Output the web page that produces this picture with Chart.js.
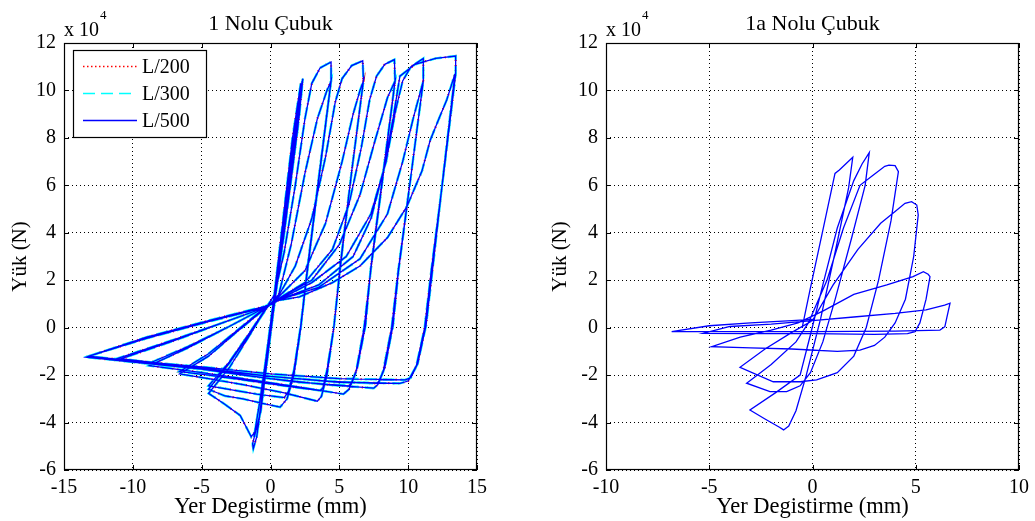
<!DOCTYPE html>
<html>
<head>
<meta charset="utf-8">
<title>Yük - Yer Degistirme</title>
<script src="https://cdn.jsdelivr.net/npm/chart.js@4.4.0/dist/chart.umd.min.js"></script>
<style>
    html, body { margin: 0; padding: 0; background: #fff; }
    #wrap { position: relative; width: 1035px; height: 521px; }
    .panel { position: absolute; top: 0; height: 521px; }
    #left { left: 0; width: 517px; }
    #right { left: 517px; width: 518px; }
</style>
</head>
<body>
<div id="wrap">
    <div class="panel" id="left"><canvas id="chart1"></canvas></div>
    <div class="panel" id="right"><canvas id="chart2"></canvas></div>
</div>
<script>
const FONT = "'Liberation Serif', 'DejaVu Serif', serif";

// tick labels
const xTicks1 = [-15, -10, -5, 0, 5, 10, 15];
const xTicks2 = [-10, -5, 0, 5, 10];
const yTicks = [-6, -4, -2, 0, 2, 4, 6, 8, 10, 12];

const titles = ['1 Nolu Çubuk', '1a Nolu Çubuk'];
const seriesNames = ['L/200', 'L/300', 'L/500'];

// [yer degistirme (mm), yük (x 10^4 N)]
// the three curves of rod 1 lie on top of each other at this scale
const rod1Points = [
    [0, 0], [0.8, 4.0], [1.6, 8.0], [2.2, 10.3], [2.0, 8.5], [1.0, 4.0], [0.0, 0.0], [-0.8, -3.2], [-1.2, -4.6],
    [-0.6, -2.5], [0.3, 1.5], [1.2, 5.5], [2.0, 9.2], [2.35, 10.5], [2.1, 9.0], [1.1, 4.5], [0.1, 0.2], [-0.7, -3.5], [-1.3, -4.9], [-1.25, -5.1], [-1.0, -4.6],
    [-0.2, -1.0], [0.7, 3.2], [1.6, 7.6], [2.3, 10.4], [1.9, 8.4], [0.9, 3.8], [-0.2, -1.2], [-0.9, -4.2], [-1.4, -4.6],
    [-2.2, -3.7], [-3.4, -3.2], [-4.5, -2.77],
    [-3.0, -1.7], [-1.6, -0.4], [-0.4, 0.75], [0.3, 1.4],
    [1.0, 3.2], [1.8, 6.0], [2.5, 8.8], [3.0, 10.3], [3.6, 10.95], [4.4, 11.2], [4.4, 10.4],
    [3.5, 6.2], [2.7, 2.5], [2.2, 0.0], [1.7, -2.0], [1.2, -3.0], [0.7, -3.35],
    [-0.5, -3.2], [-2.0, -3.0], [-3.3, -2.88], [-4.5, -2.6],
    [-3.0, -1.5], [-1.5, -0.25], [-0.3, 0.8], [0.6, 1.4],
    [1.5, 3.5], [2.5, 6.5], [3.4, 8.8], [4.1, 10.0], [4.4, 10.4],
    [3.5, 6.3], [2.7, 2.6], [2.2, 0.1], [1.7, -1.8], [1.3, -2.7], [1.0, -2.95],
    [-1.0, -2.8], [-2.5, -2.65], [-4.5, -2.45],
    [-3.0, -1.45], [-1.5, -0.2], [-0.3, 0.85], [0.6, 1.35],
    [1.8, 2.6], [3.0, 4.6], [4.0, 7.2], [4.7, 9.5], [5.2, 10.5], [5.9, 11.05], [6.7, 11.25], [6.75, 10.4],
    [5.9, 6.6], [5.1, 2.8], [4.6, 0.0], [4.1, -2.0], [3.7, -2.9], [3.4, -3.1],
    [1.0, -2.75], [-2.0, -2.4], [-4.5, -2.15], [-6.6, -1.95],
    [-4.5, -1.2], [-2.5, -0.2], [-0.4, 0.8], [0.6, 1.3],
    [2.5, 2.4], [4.0, 4.4], [5.2, 7.0], [6.0, 9.0], [6.5, 10.0], [6.75, 10.4],
    [5.9, 6.6], [5.1, 2.7], [4.6, 0.0], [4.1, -1.8], [3.8, -2.55], [3.6, -2.65],
    [1.0, -2.45], [-2.0, -2.2], [-4.5, -2.0], [-6.6, -1.85],
    [-4.5, -1.1], [-2.5, -0.15], [-0.4, 0.85], [0.5, 1.2],
    [2.5, 1.9], [4.5, 3.3], [5.7, 5.2], [6.6, 7.6], [7.2, 9.6], [7.7, 10.6], [8.3, 11.1], [9.0, 11.3], [9.05, 10.4],
    [8.2, 6.5], [7.3, 2.5], [6.8, 0.0], [6.2, -1.9], [5.7, -2.6], [5.3, -2.8],
    [2.0, -2.5], [-2.0, -2.15], [-5.5, -1.85], [-8.8, -1.6],
    [-6.0, -0.85], [-3.0, 0.05], [-0.4, 0.85], [0.5, 1.2],
    [3.0, 2.0], [5.0, 3.5], [6.5, 5.6], [7.6, 7.9], [8.5, 9.7], [9.05, 10.4],
    [8.2, 6.6], [7.3, 2.6], [6.9, 0.1], [6.3, -1.7], [5.9, -2.3], [5.7, -2.45],
    [2.0, -2.3], [-2.0, -2.0], [-5.5, -1.7], [-8.8, -1.5],
    [-6.0, -0.8], [-3.0, 0.05], [-0.4, 0.85], [0.5, 1.15],
    [3.0, 1.9], [5.5, 3.0], [7.3, 4.8], [8.4, 7.0], [9.1, 9.2], [9.6, 10.4], [10.2, 11.0], [11.1, 11.35], [11.1, 10.4],
    [10.2, 6.4], [9.3, 2.5], [8.8, 0.0], [8.2, -1.8], [7.8, -2.4], [7.5, -2.55],
    [4.0, -2.4], [0.0, -2.15], [-5.0, -1.75], [-11.1, -1.36],
    [-7.0, -0.55], [-3.5, 0.2], [-0.4, 0.85], [0.5, 1.15],
    [3.5, 1.7], [6.5, 2.9], [8.5, 4.8], [9.6, 7.0], [10.4, 8.9], [11.1, 10.4],
    [10.2, 6.4], [9.3, 2.4], [8.9, 0.1], [8.3, -1.7], [7.9, -2.25], [7.7, -2.35],
    [4.0, -2.25], [0.0, -2.05], [-5.0, -1.7], [-11.1, -1.3],
    [-7.0, -0.5], [-3.5, 0.2], [-0.4, 0.85], [0.5, 1.15],
    [3.5, 1.8], [6.0, 3.0], [7.3, 4.6], [8.2, 6.6], [8.9, 8.8], [9.4, 10.6], [10.5, 11.1], [12.0, 11.35], [13.45, 11.45], [13.45, 10.7],
    [12.6, 6.6], [11.7, 2.5], [11.2, 0.0], [10.6, -1.6], [10.0, -2.25], [9.4, -2.35],
    [5.0, -2.3], [0.0, -2.05], [-5.0, -1.75], [-10.0, -1.45], [-13.4, -1.24],
    [-9.0, -0.45], [-4.5, 0.25], [-0.4, 0.85], [0.6, 1.15],
    [2.1, 1.3], [4.5, 1.9], [6.5, 2.6], [8.5, 3.8], [9.9, 5.1], [11.0, 6.6], [11.6, 7.9], [12.3, 8.9], [12.8, 9.6], [13.4, 10.7],
    [12.6, 6.7], [11.8, 2.6], [11.3, 0.1], [10.7, -1.5], [10.2, -2.1], [9.8, -2.2],
    [5.0, -2.15], [0.0, -1.95], [-5.0, -1.65], [-10.0, -1.4], [-13.2, -1.2],
    [-9.0, -0.4], [-4.5, 0.3], [-0.4, 0.9], [0.3, 1.1]
];

const rod1aPoints = [
    [-0.5, 0.0], [-0.12, 1.59], [0.5, 4.1], [1.09, 6.5], [1.3, 6.65], [1.95, 7.18],
    [1.75, 5.9], [1.1, 3.2], [0.4, 0.4], [-0.3, -2.0], [-0.8, -3.5], [-1.15, -4.15], [-1.4, -4.31], [-1.6, -4.2], [-2.3, -3.85], [-3.03, -3.47],
    [-1.8, -2.75], [-0.6, -2.0], [-0.1, -0.3], [0.5, 1.8], [1.2, 4.2], [2.0, 6.2], [2.4, 6.9], [2.75, 7.38],
    [2.55, 6.0], [1.9, 3.8], [1.1, 1.2], [0.5, -0.6], [-0.1, -1.9], [-0.6, -2.45], [-1.25, -2.7], [-2.06, -2.7], [-3.19, -2.34],
    [-2.0, -1.55], [-0.8, -0.6], [-0.2, 0.2], [0.7, 2.0], [1.5, 4.2], [2.3, 6.0], [2.9, 6.4], [3.5, 6.8], [3.7, 6.85], [4.0, 6.83], [4.16, 6.58],
    [3.8, 4.5], [3.2, 2.0], [2.6, 0.0], [2.0, -1.2], [1.2, -1.9], [0.2, -2.2], [-0.6, -2.28], [-1.9, -2.28], [-3.51, -1.67],
    [-2.3, -0.9], [-1.0, -0.2], [0.0, 0.3], [1.0, 1.8], [2.2, 3.3], [3.3, 4.4], [4.0, 4.9], [4.48, 5.24], [4.8, 5.31], [5.05, 5.17], [5.12, 4.75],
    [4.9, 3.0], [4.5, 1.2], [4.0, 0.2], [3.5, -0.4], [3.0, -0.75], [2.3, -0.95], [1.2, -1.0], [-1.0, -0.9], [-3.0, -0.85], [-4.88, -0.8],
    [-3.5, -0.4], [-2.0, -0.1], [-0.7, 0.2], [0.5, 0.7], [2.0, 1.4], [3.6, 1.8], [4.87, 2.15], [5.37, 2.36], [5.6, 2.25], [5.69, 2.15],
    [5.5, 1.2], [5.2, 0.2], [4.96, -0.17], [4.6, -0.25], [3.0, -0.28], [0.0, -0.25], [-2.5, -0.25], [-5.29, -0.24],
    [-4.0, 0.05], [-2.0, 0.15], [0.0, 0.3], [2.0, 0.45], [4.0, 0.6], [5.5, 0.75], [6.4, 0.95], [6.66, 1.03],
    [6.5, 0.4], [6.41, 0.04], [6.17, -0.1], [4.0, -0.15], [0.0, -0.17], [-3.5, -0.17], [-6.82, -0.17],
    [-5.0, 0.08], [-3.0, 0.2], [-1.0, 0.3], [0.0, 0.35]
];

const toXY = pts => pts.map(([x, y]) => ({ x, y }));

// box, inward ticks, "x 10^4" and the boxed legend (matlab look)
const framePlugin = {
    id: 'frame',
    afterDatasetsDraw(chart, args, opts) {
        const { ctx, chartArea: a, scales } = chart;
        ctx.save();
        ctx.strokeStyle = '#000';
        ctx.lineWidth = 1.2;
        ctx.setLineDash([]);
        ctx.strokeRect(a.left + 0.5, a.top + 0.5, a.right - a.left - 1, a.bottom - a.top - 1);

        ctx.lineWidth = 1;
        ctx.beginPath();
        scales.x.ticks.forEach(t => {
            const px = Math.round(scales.x.getPixelForValue(t.value)) + 0.5;
            ctx.moveTo(px, a.bottom); ctx.lineTo(px, a.bottom - 5);
            ctx.moveTo(px, a.top); ctx.lineTo(px, a.top + 5);
        });
        scales.y.ticks.forEach(t => {
            const py = Math.round(scales.y.getPixelForValue(t.value)) + 0.5;
            ctx.moveTo(a.left, py); ctx.lineTo(a.left + 5, py);
            ctx.moveTo(a.right, py); ctx.lineTo(a.right - 5, py);
        });
        ctx.stroke();

        ctx.fillStyle = '#000';
        ctx.textAlign = 'left';
        ctx.textBaseline = 'alphabetic';
        ctx.font = '20px ' + FONT;
        ctx.fillText('x 10', a.left, a.top - 7);
        const w = ctx.measureText('x 10').width;
        ctx.font = '13px ' + FONT;
        ctx.fillText('4', a.left + w + 1, a.top - 24);

        if (opts.legend) {
            const bx = a.left + 9, by = a.top + 7, bw = 133, bh = 87;
            ctx.fillStyle = '#fff';
            ctx.fillRect(bx, by, bw, bh);
            ctx.strokeStyle = '#000';
            ctx.lineWidth = 1.2;
            ctx.strokeRect(bx + 0.5, by + 0.5, bw, bh);
            const rows = chart.data.datasets.slice().reverse();
            rows.forEach((ds, i) => {
                const y = by + 16 + i * 27 + 0.5;
                ctx.strokeStyle = ds.borderColor;
                ctx.lineWidth = 1.5;
                ctx.setLineDash(ds.legendDash || []);
                ctx.beginPath();
                ctx.moveTo(a.left + 19, y);
                ctx.lineTo(a.left + 73, y);
                ctx.stroke();
                ctx.setLineDash([]);
                ctx.fillStyle = '#000';
                ctx.font = '20px ' + FONT;
                ctx.textBaseline = 'middle';
                ctx.fillText(ds.label, a.left + 78, y + 1);
            });
        }
        ctx.restore();
    }
};

function makeOptions(title, xTicks, yAxisWidth, yTitlePad, rightPad, legend) {
    return {
        responsive: true,
        maintainAspectRatio: false,
        animation: false,
        layout: { padding: { top: 0, right: rightPad, bottom: 0, left: 0 } },
        elements: { point: { radius: 0 }, line: { tension: 0 } },
        plugins: {
            legend: { display: false },
            tooltip: { enabled: false },
            title: {
                display: true,
                text: title,
                fullSize: false,
                color: '#000',
                font: { family: FONT, size: 22, weight: 'normal' },
                padding: { top: 11, bottom: 5.6 }
            },
            frame: { legend: legend }
        },
        scales: {
            x: {
                type: 'linear',
                min: xTicks[0],
                max: xTicks[xTicks.length - 1],
                afterBuildTicks: s => { s.ticks = xTicks.map(v => ({ value: v })); },
                afterFit: s => { s.height = 51; },
                grid: { color: '#000', lineWidth: 1, drawTicks: false },
                border: { display: false, dash: [1, 3] },
                ticks: { color: '#000', font: { family: FONT, size: 20 }, padding: 6, maxRotation: 0 },
                title: {
                    display: true, text: 'Yer Degistirme (mm)', color: '#000',
                    font: { family: FONT, size: 22.5 }, padding: { top: 0, bottom: 0.5 }
                }
            },
            y: {
                type: 'linear',
                min: yTicks[0],
                max: yTicks[yTicks.length - 1],
                afterBuildTicks: s => { s.ticks = yTicks.map(v => ({ value: v })); },
                afterFit: s => { s.width = yAxisWidth; },
                grid: { color: '#000', lineWidth: 1, drawTicks: false },
                border: { display: false, dash: [1, 3] },
                ticks: { color: '#000', font: { family: FONT, size: 20 }, padding: 8 },
                title: {
                    display: true, text: 'Yük (N)', color: '#000',
                    font: { family: FONT, size: 21 }, padding: { top: yTitlePad, bottom: 0 }
                }
            }
        }
    };
}

document.addEventListener('DOMContentLoaded', () => {
    // 1 Nolu Çubuk - L/500 first so it is painted on top
    new Chart(document.getElementById('chart1'), {
        type: 'scatter',
        data: {
            datasets: [
                { label: seriesNames[2], data: toXY(rod1Points), showLine: true, borderColor: '#0000ff', borderWidth: 1.3 },
                { label: seriesNames[1], data: toXY(rod1Points), showLine: true, borderColor: '#00ffff', borderWidth: 2.4, borderDash: [12, 6], legendDash: [12, 6] },
                { label: seriesNames[0], data: toXY(rod1Points), showLine: true, borderColor: '#ff0000', borderWidth: 2.2, borderDash: [1, 4], legendDash: [1.5, 2.5] }
            ]
        },
        options: makeOptions(titles[0], xTicks1, 64, 7.4, 40, true),
        plugins: [framePlugin]
    });

    // 1a Nolu Çubuk
    new Chart(document.getElementById('chart2'), {
        type: 'scatter',
        data: {
            datasets: [
                { label: seriesNames[2], data: toXY(rod1aPoints), showLine: true, borderColor: '#0000ff', borderWidth: 1.3 }
            ]
        },
        options: makeOptions(titles[1], xTicks2, 89, 30.4, 16, false),
        plugins: [framePlugin]
    });
});
</script>
</body>
</html>
